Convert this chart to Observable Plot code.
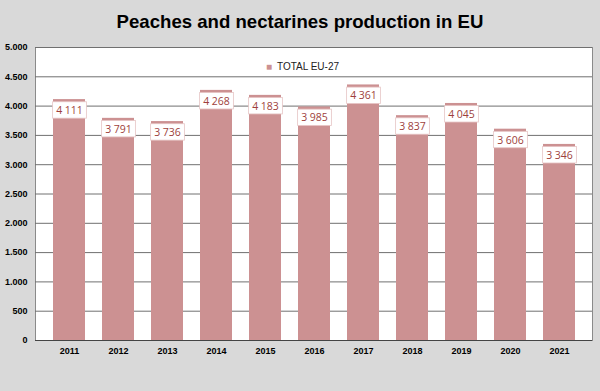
<!DOCTYPE html>
<html>
<head>
<meta charset="utf-8">
<script src="https://cdn.jsdelivr.net/npm/d3@7"></script>
<script src="https://cdn.jsdelivr.net/npm/@observablehq/plot@0.6"></script>
<style>
  html, body { margin: 0; padding: 0; background: #d9d9d9; }
  #wrap { width: 600px; height: 391px; position: relative; }
  #title { position: absolute; left: 0; top: 0; width: 600px; height: 40px; line-height: 44px;
    text-align: center; font-family: "Liberation Sans", Arial, sans-serif; font-weight: bold;
    font-size: 18.6px; color: #000; }
  #chart { position: absolute; left: 0; top: 40px; }
</style>
</head>
<body>
<div id="wrap">
  <div id="title">Peaches and nectarines production in EU</div>
  <div id="chart"></div>
</div>
<script>
const years = ["2011","2012","2013","2014","2015","2016","2017","2018","2019","2020","2021"];
const production = [4111, 3791, 3736, 4268, 4183, 3985, 4361, 3837, 4045, 3606, 3346];
const yTicks = [0, 500, 1000, 1500, 2000, 2500, 3000, 3500, 4000, 4500, 5000];
const seriesName = "TOTAL EU-27";

const data = years.map((y, i) => ({year: y, value: production[i]}));
const yFmt = d3.formatLocale({thousands: ".", grouping: [3], decimal: ","}).format(",");
const vFmt = d3.formatLocale({thousands: " ", grouping: [3], decimal: ","}).format(",");

const barColor = "#cc9192";
const labelColor = "#9e3f3c";

const plot = Plot.plot({
  width: 600,
  height: 351,
  marginTop: 7,
  marginBottom: 51,
  marginLeft: 35,
  marginRight: 8,
  style: {background: "transparent", fontFamily: "'Liberation Sans', Arial, sans-serif"},
  x: {type: "band", domain: years, padding: 0.35, label: null},
  y: {domain: [0, 5000], label: null},
  marks: [
    Plot.frame({fill: "white", stroke: "#8a8a8a"}),
    Plot.ruleY(yTicks, {stroke: "#707070", strokeWidth: 1}),
    Plot.barY(data, {x: "year", y: "value", fill: barColor}),
    Plot.ruleX([0], {frameAnchor: "left", stroke: "#444", strokeWidth: 1.2}),
    Plot.axisY({ticks: yTicks, tickFormat: yFmt, tickSize: 0, tickPadding: 8,
      fontSize: 9, fontWeight: "bold", fill: "#000"}),
    Plot.axisX({tickSize: 0, tickPadding: 7, fontSize: 9, fontWeight: "bold", fill: "#000"}),
    Plot.ruleY([0], {stroke: "#444", strokeWidth: 1.2}),
    Plot.text(data, {x: "year", y: "value", text: d => vFmt(d.value), dy: 11,
      fill: labelColor, fontSize: 10.5, fontFamily: "'Open Sans', 'Liberation Sans', sans-serif"}),
    Plot.text([seriesName], {frameAnchor: "top", dx: -6, dy: 15, text: d => d,
      fontSize: 10, fill: "#222"}),
    Plot.text(["■"], {frameAnchor: "top", dx: -45, dy: 15, text: d => d,
      fontSize: 10, fill: barColor})
  ]
});
document.getElementById("chart").appendChild(plot);

// white boxes behind the value labels
const svg = d3.select(plot);
svg.selectAll("g")
  .filter(function() { return (this.getAttribute("fill") || "").toLowerCase() === labelColor; })
  .selectAll("text").each(function() {
    const bb = this.getBBox();
    const padX = 3.5, padY = 1.2;
    d3.select(this.parentNode).insert("rect", () => this)
      .attr("transform", this.getAttribute("transform"))
      .attr("x", bb.x - padX).attr("y", bb.y - padY)
      .attr("width", bb.width + 2 * padX).attr("height", bb.height + 2 * padY)
      .attr("fill", "white").attr("stroke", "#e6c4c4").attr("stroke-width", 0.8);
  });
</script>
</body>
</html>
